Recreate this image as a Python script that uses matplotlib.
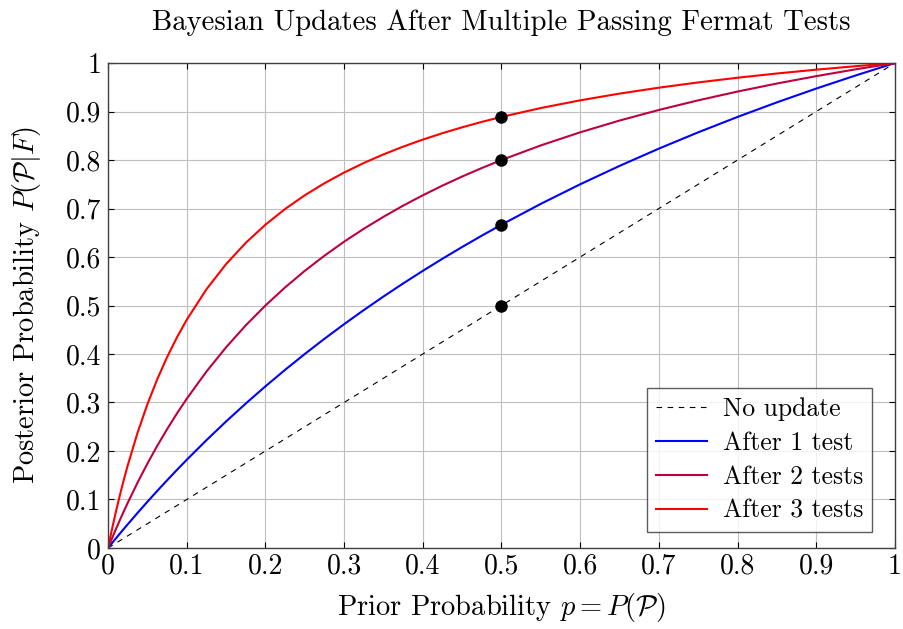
import matplotlib
matplotlib.use('Agg')
import matplotlib.pyplot as plt

plt.rcParams['font.family'] = 'serif'
plt.rcParams['font.serif'] = ['cmr10']
plt.rcParams['mathtext.fontset'] = 'cm'
plt.rcParams['axes.formatter.use_mathtext'] = True

# prior p and posterior values
prior = [0, 0.005, 0.01, 0.015, 0.02, 0.025, 0.0375, 0.05, 0.0625, 0.075, 0.0875, 0.1,
         0.125, 0.15, 0.175, 0.2, 0.225, 0.25, 0.275, 0.3, 0.325, 0.35, 0.375, 0.4,
         0.425, 0.45, 0.475, 0.5,
         0.55, 0.6, 0.65, 0.7, 0.75, 0.8, 0.85, 0.9, 0.95, 1.0]
after1 = [0, 0.00995, 0.0198, 0.02956, 0.03922, 0.04878, 0.07229, 0.09524, 0.11765,
          0.13953, 0.16092, 0.18182,
          0.22222, 0.26087, 0.29787, 0.33333, 0.36735, 0.4, 0.43137, 0.46154, 0.49057,
          0.51852, 0.54545, 0.57143, 0.59649, 0.62069, 0.64407, 0.66667,
          0.70968, 0.75, 0.78788, 0.82353, 0.85714, 0.88889, 0.91892, 0.94737, 0.97436, 1.0]
after2 = [0, 0.0197, 0.03883, 0.05742, 0.07547, 0.09302, 0.13483, 0.17391, 0.21053,
          0.2449, 0.27723, 0.30769,
          0.36364, 0.41379, 0.45902, 0.5, 0.53731, 0.57143, 0.60274, 0.63158, 0.65823,
          0.68293, 0.70588, 0.72727, 0.74725, 0.76596, 0.78351, 0.8,
          0.83019, 0.85714, 0.88136, 0.90323, 0.92308, 0.94118, 0.95775, 0.97297, 0.98701, 1.0]
after3 = [0, 0.03865, 0.07477, 0.1086, 0.14035, 0.17021, 0.23762, 0.2963, 0.34783,
          0.39344, 0.43411, 0.47059,
          0.53333, 0.58537, 0.62921, 0.66667, 0.69903, 0.72727, 0.75214, 0.77419, 0.79389,
          0.81159, 0.82759, 0.84211, 0.85535, 0.86747, 0.87861, 0.88889,
          0.90722, 0.92308, 0.93694, 0.94915, 0.96, 0.9697, 0.97842, 0.9863, 0.99346, 1.0]
# marked points at p = 0.5
dot_x = [0.5, 0.5, 0.5, 0.5]
dot_y = [0.5, 0.6667, 0.8, 0.8889]
ticks = [0, 0.1, 0.2, 0.3, 0.4, 0.5, 0.6, 0.7, 0.8, 0.9, 1]
tick_labels = ['0', '0.1', '0.2', '0.3', '0.4', '0.5', '0.6', '0.7', '0.8', '0.9', '1']

fig = plt.figure(figsize=(9.04, 6.29), dpi=100)
ax = fig.add_axes([0.1195, 0.1288, 0.8705, 0.771])

ax.plot([0, 1], [0, 1], color='black', lw=0.8, dashes=(5, 5), label='No update')
ax.plot(prior, after1, color='#0000ff', lw=1.5, label='After 1 test')
ax.plot(prior, after2, color='#bf0040', lw=1.5, label='After 2 tests')
ax.plot(prior, after3, color='#ff0000', lw=1.5, label='After 3 tests')
ax.plot(dot_x, dot_y, 'o', color='black', ms=8, zorder=5)

ax.set_xlim(0, 1)
ax.set_ylim(0, 1)
ax.set_xticks(ticks)
ax.set_xticklabels(tick_labels)
ax.set_yticks(ticks)
ax.set_yticklabels(tick_labels)
ax.tick_params(direction='in', length=4, labelsize=20, colors='black',
               top=True, right=True)
ax.tick_params(axis='x', pad=4)
ax.tick_params(axis='y', pad=5)
ax.grid(True, color='#bfbfbf', lw=0.8)
for s in ax.spines.values():
    s.set_color('#404040')
    s.set_linewidth(1.0)

ax.set_xlabel(r'Prior Probability $p = P(\mathcal{P})$', fontsize=20.5, labelpad=8)
ax.set_ylabel(r'Posterior Probability $P(\mathcal{P}|F)$', fontsize=20.5, labelpad=16)
ax.set_title('Bayesian Updates After Multiple Passing Fermat Tests', fontsize=20.7, pad=24)

leg = ax.legend(loc='lower right', fontsize=18.5, frameon=True, fancybox=False,
                edgecolor='#333333', handlelength=2.0, borderpad=0.35,
                labelspacing=0.4, handletextpad=0.6, borderaxespad=0,
                bbox_to_anchor=(0.971, 0.033))
leg.get_frame().set_linewidth(1.0)

fig.savefig('out.png', dpi=100)
